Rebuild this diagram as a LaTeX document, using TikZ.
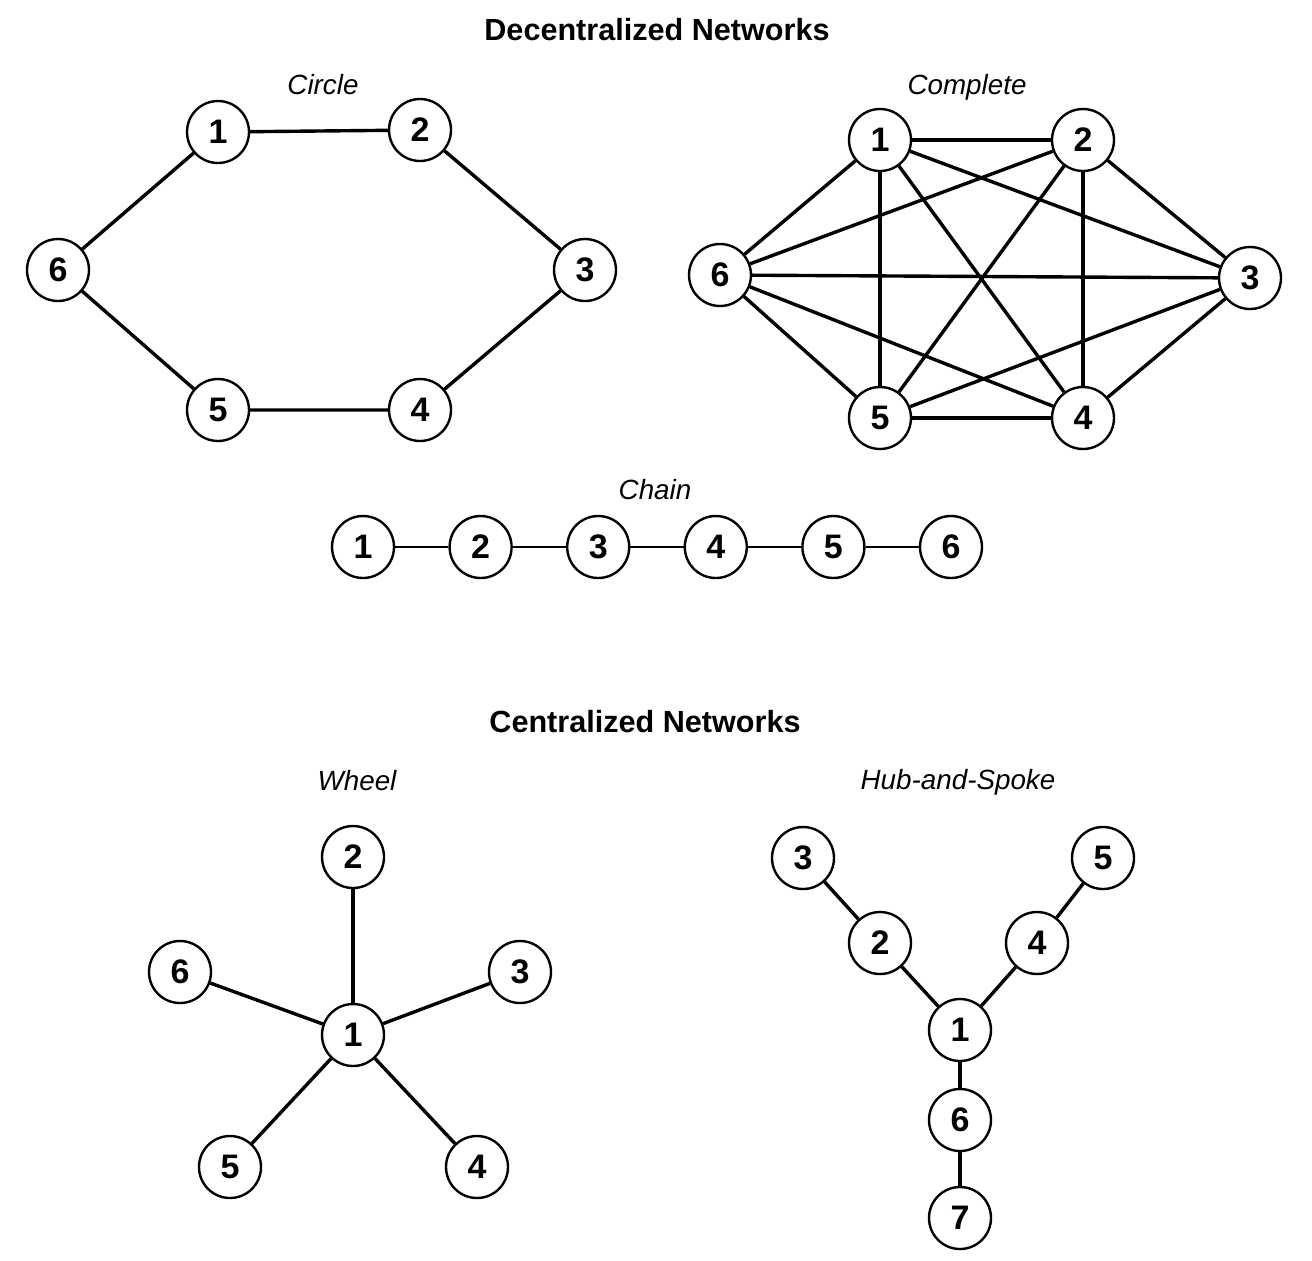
\documentclass[tikz,border=0pt]{standalone}
\usepackage{fontspec}
\setmainfont{Liberation Sans}
\usetikzlibrary{positioning}

\begin{document}
\begin{tikzpicture}[x=0.5pt, y=-0.5pt,
            agent/.style={circle, draw, line width=1.2pt, fill=white, minimum size=31pt, inner sep=0pt,
              font=\fontsize{17}{17}\selectfont\bfseries},
            link/.style={line width=1.7pt},
            thinlink/.style={line width=1.2pt},
            nettitle/.style={font=\fontsize{15.3}{17}\selectfont\bfseries},
            netname/.style={font=\fontsize{13.9}{16}\selectfont\itshape},
          ]
          \useasboundingbox (0,0) rectangle (1312,1260);

          % --- Titles ---
          \node[nettitle] (dectitle) at (657,30) {Decentralized Networks};
          \node[nettitle] (centitle) at (645,722) {Centralized Networks};

          % --- Circle ---
          \node[netname] (circlename) at (323,85) {Circle};
          \node[agent] (o1) at (218,132) {1};
          \node[agent] (o2) at (420,130) {2};
          \node[agent] (o3) at (585,270) {3};
          \node[agent] (o4) at (420,410) {4};
          \node[agent] (o5) at (218,410) {5};
          \node[agent] (o6) at (58,270) {6};
          \draw[link] (o1) -- (o2) -- (o3) -- (o4) -- (o5) -- (o6) -- (o1);

          % --- Complete ---
          \node[netname] (completename) at (967,87) {Complete};
          \node[agent] (k1) at (880,140) {1};
          \node[agent] (k2) at (1083,140) {2};
          \node[agent] (k3) at (1250,278) {3};
          \node[agent] (k4) at (1083,418) {4};
          \node[agent] (k5) at (880,418) {5};
          \node[agent] (k6) at (720,275) {6};
          \foreach \a in {1,...,5} {
            \pgfmathtruncatemacro{\n}{\a+1}
            \foreach \b in {\n,...,6}
              \draw[link] (k\a) -- (k\b);
          }

          % --- Chain ---
          \node[netname] (chainname) at (655,490) {Chain};
          \node[agent] (c1) at (363,547) {1};
          \foreach \i [remember=\i as \j (initially 1)] in {2,...,6} {
            \node[agent, right=26.6pt of c\j] (c\i) {\i};
            \draw[thinlink] (c\j) -- (c\i);
          }

          % --- Wheel ---
          \node[netname] (wheelname) at (357,781) {Wheel};
          \node[agent] (w1) at (353,1035) {1};
          \node[agent] (w2) at (353,857) {2};
          \node[agent] (w3) at (520,972) {3};
          \node[agent] (w4) at (477,1167) {4};
          \node[agent] (w5) at (230,1167) {5};
          \node[agent] (w6) at (180,972) {6};
          \foreach \i in {2,...,6}
            \draw[link] (w1) -- (w\i);

          % --- Hub-and-Spoke ---
          \node[netname] (hubname) at (958,782) {Hub-and-Spoke};
          \node[agent] (h1) at (960,1030) {1};
          \node[agent] (h2) at (880,943) {2};
          \node[agent] (h3) at (803,858) {3};
          \node[agent] (h4) at (1037,943) {4};
          \node[agent] (h5) at (1103,858) {5};
          \node[agent] (h6) at (960,1120) {6};
          \node[agent] (h7) at (960,1218) {7};
          \draw[link] (h3) -- (h2) -- (h1) -- (h4) -- (h5);
          \draw[link] (h1) -- (h6) -- (h7);
        \end{tikzpicture}
\end{document}
